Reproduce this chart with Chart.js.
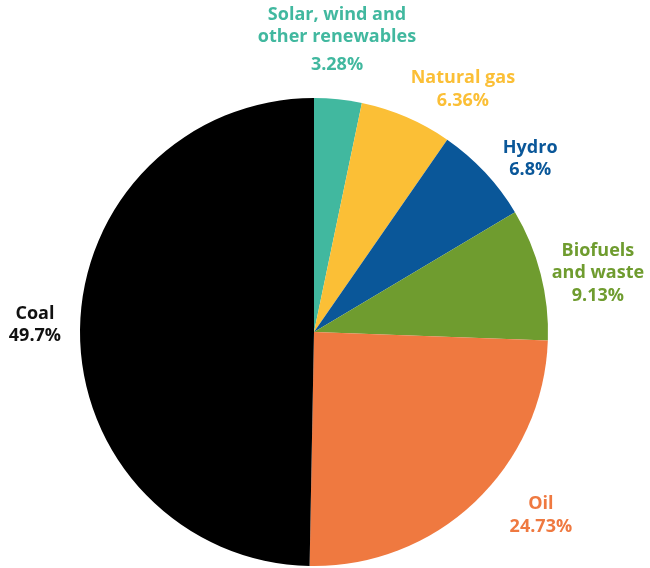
<!DOCTYPE html>
<html>
<head>
<meta charset="utf-8">
<script src="https://cdn.jsdelivr.net/npm/chart.js@4.4.1/dist/chart.umd.min.js"></script>
<style>
  html, body { margin: 0; padding: 0; background: #fff; }
  #wrap { width: 650px; height: 568px; position: relative; }
</style>
</head>
<body>
<div id="wrap"><canvas id="pie" width="650" height="568"></canvas></div>
<script>
// share of energy sources, clockwise from 12 o'clock
const categories = ['Solar, wind and other renewables', 'Natural gas', 'Hydro', 'Biofuels and waste', 'Oil', 'Coal'];
const shares = [3.28, 6.36, 6.8, 9.13, 24.73, 49.7];
const labelLines = [
  ['Solar, wind and', 'other renewables'],
  ['Natural gas'],
  ['Hydro'],
  ['Biofuels', 'and waste'],
  ['Oil'],
  ['Coal']
];
const percentText = ['3.28%', '6.36%', '6.8%', '9.13%', '24.73%', '49.7%'];

const sliceColors = ['#41b89f', '#fbbf36', '#0a5799', '#6f9c2f', '#ef7940', '#000000'];
const textColors = ['#41b89f', '#fbbf36', '#0a5799', '#6f9c2f', '#ef7940', '#111111'];

// where each label sits: degrees added to slice mid angle, distance as multiple of radius
const labelPlace = [
  { shift: -1.4, dist: 1.252, gap: 5.5 },
  { shift: 8.3, dist: 1.216, gap: 0 },
  { shift: 4.4, dist: 1.183, gap: 0 },
  { shift: 2.7, dist: 1.239, gap: 0 },
  { shift: -7.6, dist: 1.247, gap: 0 },
  { shift: 0.9, dist: 1.193, gap: 0 }
];

const outsideLabels = {
  id: 'outsideLabels',
  afterDatasetsDraw(chart) {
    const ctx = chart.ctx;
    const arcs = chart.getDatasetMeta(0).data;
    const lh = 22.5;
    ctx.save();
    ctx.font = 'bold 18px "Open Sans", Lato, sans-serif';
    ctx.textAlign = 'center';
    ctx.textBaseline = 'middle';
    arcs.forEach((arc, i) => {
      const p = labelPlace[i];
      const mid = (arc.startAngle + arc.endAngle) / 2 + p.shift * Math.PI / 180;
      const r = arc.outerRadius * p.dist;
      const cx = arc.x + Math.cos(mid) * r;
      const cy = arc.y + Math.sin(mid) * r;
      const lines = labelLines[i].concat([percentText[i]]);
      const total = (lines.length - 1) * lh + p.gap;
      let y = cy - total / 2;
      ctx.fillStyle = textColors[i];
      lines.forEach((t, k) => {
        if (k === lines.length - 1 && k > 0) y += p.gap;
        ctx.fillText(t, cx, y);
        y += lh;
      });
    });
    ctx.restore();
  }
};

new Chart(document.getElementById('pie'), {
  type: 'pie',
  data: {
    labels: categories,
    datasets: [{
      data: shares,
      backgroundColor: sliceColors,
      borderWidth: 0
    }]
  },
  options: {
    responsive: false,
    animation: false,
    layout: { padding: { top: 98, bottom: 2, left: 80, right: 102 } },
    plugins: {
      legend: { display: false },
      tooltip: { enabled: false }
    }
  },
  plugins: [outsideLabels]
});
</script>
</body>
</html>
